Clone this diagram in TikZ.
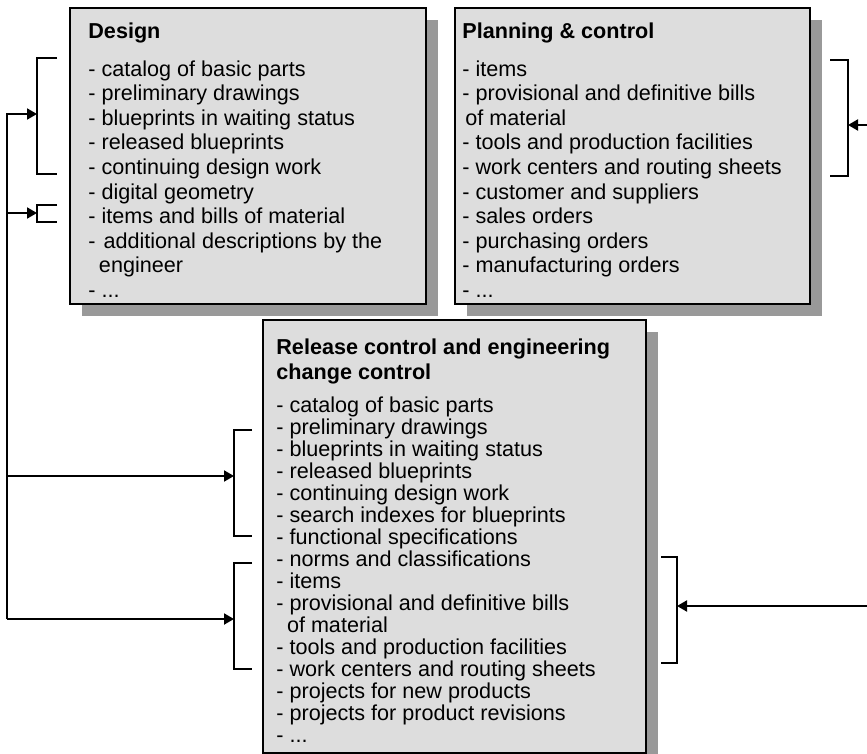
\documentclass[tikz,border=0pt]{standalone}
\usepackage{fontspec}
\setmainfont{Liberation Sans}
\usetikzlibrary{arrows.meta,shadows}
\definecolor{boxfill}{HTML}{DDDDDD}
\definecolor{boxshadow}{HTML}{999999}

\begin{document}
\begin{tikzpicture}[
    x=0.5pt, y=-0.5pt,
    >={Triangle[length=5pt,width=5.5pt]},
    box/.style={
        rectangle,
        draw=black,
        fill=boxfill,
        line width=1pt,
        inner sep=0pt,
        anchor=north west,
        drop shadow={shadow xshift=5.75pt, shadow yshift=-6pt, fill=boxshadow, opacity=1}
    },
    boxtext/.style={
        anchor=north west,
        inner sep=0pt,
        align=left,
        font=\fontsize{10.8}{12.3}\selectfont
    },
    bracket/.style={draw=black, line width=1pt},
    flowline/.style={draw=black, ->, line width=1pt}
]

\useasboundingbox (0,0) rectangle (867,754);

% --- BOXES ---

% Design
\node[box, minimum width=178pt, minimum height=148pt] (design) at (69,7) {};
\node[boxtext] (design_text) at (88,22) {
    \textbf{Design}\\[6.7pt]
    - catalog of basic parts\\
    - preliminary drawings\\
    - blueprints in waiting status\\
    - released blueprints\\
    - continuing design work\\
    - digital geometry\\
    - items and bills of material\\
    - \hspace{1pt}additional descriptions by the\\
    \hspace*{5.3pt}engineer\\
    - ...
};

% Planning & control
\node[box, minimum width=177.5pt, minimum height=148pt] (planning) at (454,7) {};
\node[boxtext] (planning_text) at (462,22) {
    \textbf{Planning \& control}\\[6.7pt]
    - items\\
    - provisional and definitive bills\\
    \hspace*{1.5pt}of material\\
    - tools and production facilities\\
    - work centers and routing sheets\\
    - customer and suppliers\\
    - sales orders\\
    - purchasing orders\\
    - manufacturing orders\\
    - ...
};

% Release control
\node[box, minimum width=191.5pt, minimum height=216.5pt] (release) at (262,319) {};
\node[boxtext, font=\fontsize{10.8}{11}\selectfont] (release_text) at (276,338) {
    \textbf{Release control and engineering}\\[1.5pt]
    \textbf{change control}\\[5.5pt]
    - catalog of basic parts\\
    - preliminary drawings\\
    - blueprints in waiting status\\
    - released blueprints\\
    - continuing design work\\
    - search indexes for blueprints\\
    - functional specifications\\
    - norms and classifications\\
    - items\\
    - provisional and definitive bills\\
    \hspace*{5.3pt}of material\\
    - tools and production facilities\\
    - work centers and routing sheets\\
    - projects for new products\\
    - projects for product revisions\\
    - ...
};

% --- BRACKETS ---
\draw[bracket] (57,58) -| (37,174) -- (57,174);
\draw[bracket] (57,205) -| (37,222) -- (57,222);
\draw[bracket] (252,430) -| (234,536) -- (252,536);
\draw[bracket] (252,563) -| (234,669) -- (252,669);
\draw[bracket] (661,557) -| (677,663) -- (661,663);
\draw[bracket] (830,60) -| (848,176) -- (830,176);

\coordinate (design_in1) at (37,114);
\coordinate (design_in2) at (37,213);
\coordinate (release_in1) at (234,476);
\coordinate (release_in2) at (234,619);
\coordinate (release_in3) at (677,606);
\coordinate (planning_in) at (848,125);

% --- CONNECTORS ---
\coordinate (trunk_top) at (7,114);
\coordinate (trunk_mid) at (7,213);
\coordinate (trunk_low) at (7,476);
\coordinate (trunk_bottom) at (7,619);
\coordinate (right_top) at (867,125);
\coordinate (right_low) at (867,606);

\draw[flowline] (trunk_bottom) -- (trunk_top) -- (design_in1);
\draw[flowline] (trunk_mid) -- (design_in2);
\draw[flowline] (trunk_low) -- (release_in1);
\draw[flowline] (trunk_bottom) -- (release_in2);

\draw[flowline] (right_top) -- (planning_in);
\draw[flowline] (right_low) -- (release_in3);

\end{tikzpicture}
\end{document}
